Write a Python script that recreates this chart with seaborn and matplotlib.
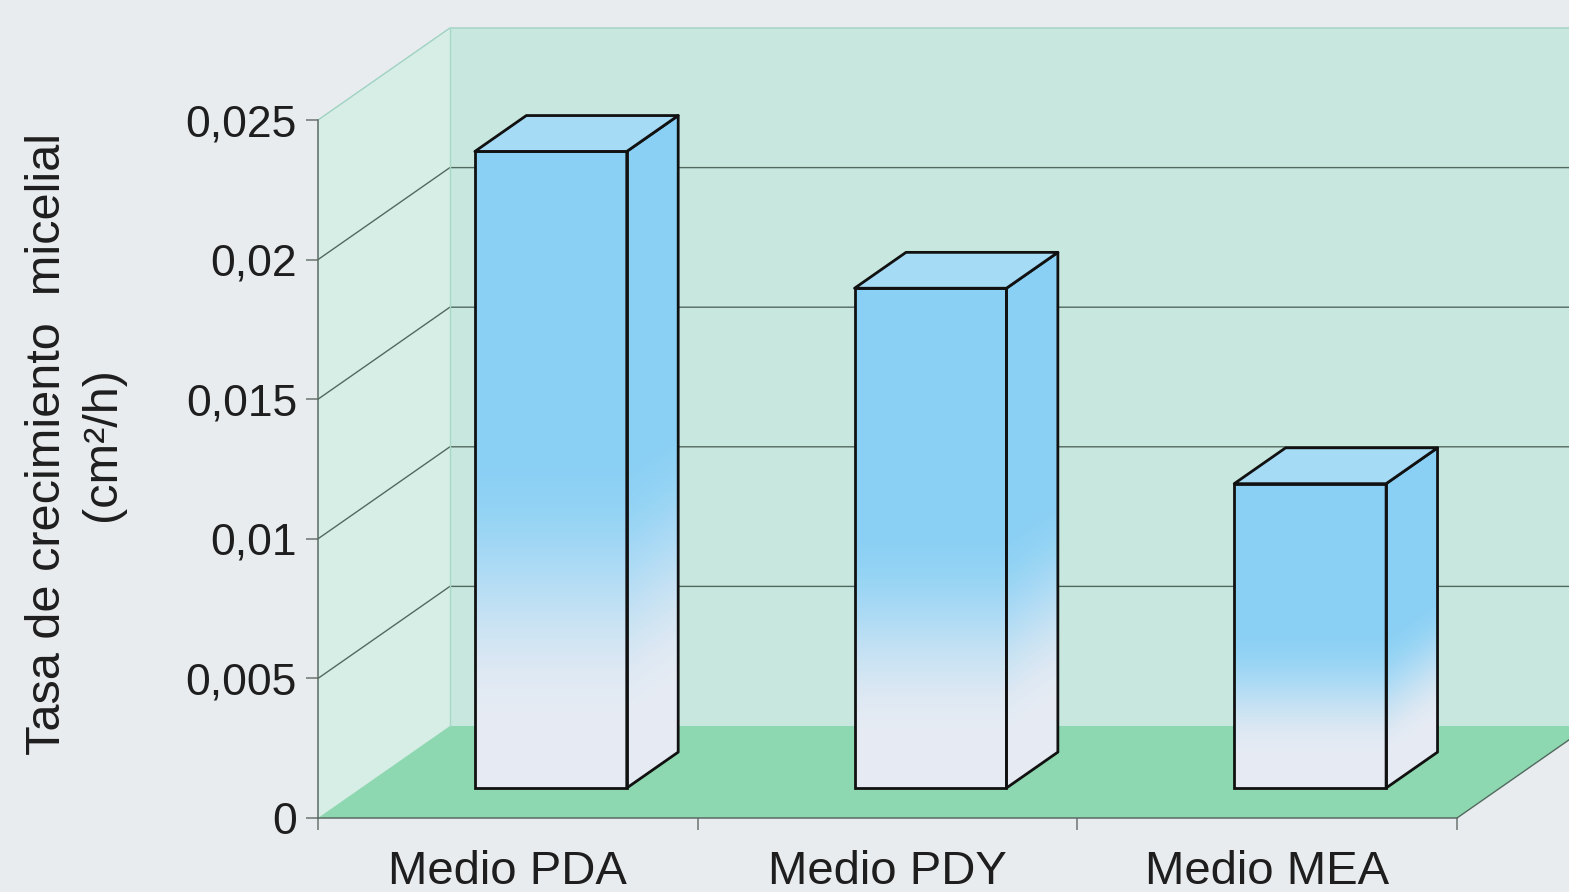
import numpy as np
import pandas as pd
import seaborn as sns
import matplotlib
matplotlib.use("Agg")
import matplotlib.pyplot as plt
from matplotlib.patches import Polygon
from matplotlib.collections import PolyCollection
from matplotlib.colors import to_rgb

# ---------------- data ----------------
categories = ["Medio PDA", "Medio PDY", "Medio MEA"]
growth_rate = [0.0228, 0.0179, 0.0109]
y_ticks = [0, 0.005, 0.01, 0.015, 0.02, 0.025]
y_tick_labels = ["0", "0,005", "0,01", "0,015", "0,02", "0,025"]
y_label = "Tasa de crecimiento  micelial\n(cm²/h)"

# ---------------- style ----------------
sns.set_theme(style="white")
plt.rcParams["font.family"] = ["Liberation Sans", "DejaVu Sans"]

W, H = 1569, 892
fig = plt.figure(figsize=(W / 100, H / 100), dpi=100)
fig.patch.set_facecolor("#E9ECEF")
ax = fig.add_axes([318 / W, (H - 818) / H, (1457 - 318) / W, 698 / H])
ax.patch.set_visible(False)

df = pd.DataFrame({"medio": categories, "tasa": growth_rate})
sns.barplot(data=df, x="medio", y="tasa", ax=ax, width=0.4, color="#8CCDF0")
bars = list(ax.patches)

x_lo, x_hi = -0.5, 2.5
y_top = 0.025
ax.set_xlim(x_lo, x_hi)
ax.set_ylim(0, y_top)

# oblique depth (in data units)
DX = 132 / 380
DY = y_top * 92 / 698
F_FRONT = 0.326   # depth position of bar front face
F_BAR = 0.39      # bar depth

BACK = "#C8E8DF"
SIDE = "#D6EEE6"
FLOOR = "#8DD8B0"
GRID = "#52695F"

# walls and floor
ax.add_patch(Polygon([(x_lo + DX, DY), (x_hi + DX, DY), (x_hi + DX, y_top + DY), (x_lo + DX, y_top + DY)],
                     closed=True, facecolor=BACK, edgecolor="none", zorder=0.5, clip_on=False))
ax.add_patch(Polygon([(x_lo, 0), (x_lo + DX, DY), (x_lo + DX, y_top + DY), (x_lo, y_top)],
                     closed=True, facecolor=SIDE, edgecolor="none", zorder=0.6, clip_on=False))
ax.add_patch(Polygon([(x_lo, 0), (x_hi, 0), (x_hi + DX, DY), (x_lo + DX, DY)],
                     closed=True, facecolor=FLOOR, edgecolor="none", zorder=0.7, clip_on=False))

# gridlines
for yv in y_ticks[1:-1]:
    ax.plot([x_lo, x_lo + DX, x_hi + DX], [yv, yv + DY, yv + DY], color=GRID, lw=1.0,
            clip_on=False, zorder=1)
ax.plot([x_lo, x_lo + DX, x_hi + DX], [y_top, y_top + DY, y_top + DY], color="#9FD2C2", lw=1.0,
        clip_on=False, zorder=1)
ax.plot([x_lo + DX, x_lo + DX], [DY, y_top + DY], color="#A6D8C6", lw=1.0, clip_on=False, zorder=1)
ax.plot([x_hi, x_hi + DX], [0, DY], color=GRID, lw=1.0, clip_on=False, zorder=1)

# bars with gradient
blue = np.array(to_rgb("#8AD0F4"))
pale = np.array(to_rgb("#E6EBF3"))


def grad(t):
    s = np.clip((t - 0.1) / 0.42, 0, 1)
    s = s * s * (3 - 2 * s)
    return pale + (blue - pale) * s


n = 150
for p in bars:
    p.set_x(p.get_x() + F_FRONT * DX)
    p.set_y(p.get_y() + F_FRONT * DY)
    p.set_facecolor("none")
    p.set_edgecolor("#111111")
    p.set_linewidth(2.0)
    p.set_zorder(6)
    p.set_clip_on(False)
    x0, w, y0, h = p.get_x(), p.get_width(), p.get_y(), p.get_height()
    x1 = x0 + w
    bdx, bdy = F_BAR * DX, F_BAR * DY
    front, side, cols = [], [], []
    for i in range(n):
        ya = y0 + h * i / n
        yb = y0 + h * (i + 1) / n + h * 0.002
        front.append([(x0, ya), (x1, ya), (x1, yb), (x0, yb)])
        side.append([(x1, ya), (x1 + bdx, ya + bdy), (x1 + bdx, yb + bdy), (x1, yb)])
        cols.append(grad((i + 0.5) / n))
    ax.add_collection(PolyCollection(front, facecolors=cols, edgecolors="none", antialiased=False,
                                     zorder=4, clip_on=False))
    ax.add_collection(PolyCollection(side, facecolors=cols, edgecolors="none", antialiased=False,
                                     zorder=4, clip_on=False))
    ax.add_patch(Polygon([(x1, y0), (x1 + bdx, y0 + bdy), (x1 + bdx, y0 + h + bdy), (x1, y0 + h)],
                         closed=True, facecolor="none", edgecolor="#111111", lw=2.0, zorder=6,
                         clip_on=False, joinstyle="round"))
    ax.add_patch(Polygon([(x0, y0 + h), (x1, y0 + h), (x1 + bdx, y0 + h + bdy), (x0 + bdx, y0 + h + bdy)],
                         closed=True, facecolor="#A6DBF5", edgecolor="#111111", lw=2.0, zorder=6,
                         clip_on=False, joinstyle="round"))

ax.set_xlim(x_lo, x_hi)
ax.set_ylim(0, y_top)

# spines & ticks
for s in ["top", "right"]:
    ax.spines[s].set_visible(False)
for s in ["left", "bottom"]:
    ax.spines[s].set_color("#5C6A64")
    ax.spines[s].set_linewidth(1.1)
    ax.spines[s].set_zorder(2)

ax.set_yticks(y_ticks, y_tick_labels)
ax.tick_params(axis="y", left=True, length=8.6, width=1.1, color="#6A7570", pad=6.5,
               labelsize=32, labelcolor="#1E1E1E")
ax.set_xticks([-0.5, 0.5, 1.5, 2.5], ["", "", "", ""])
ax.set_xticks([0, 1, 2], categories, minor=True)
ax.tick_params(axis="x", which="major", bottom=True, length=8.6, width=1.1, color="#6A7570")
ax.tick_params(axis="x", which="minor", bottom=True, length=0, pad=23, labelsize=34,
               labelcolor="#1E1E1E")
ax.set_xlabel("")
ax.set_ylabel("")

fig.text(75 / W, 1 - 444 / H, y_label, rotation=90, ha="center", va="center", fontsize=35,
         linespacing=1.28, multialignment="center", color="#1E1E1E")

fig.savefig("out.png", dpi=100, facecolor=fig.get_facecolor())
